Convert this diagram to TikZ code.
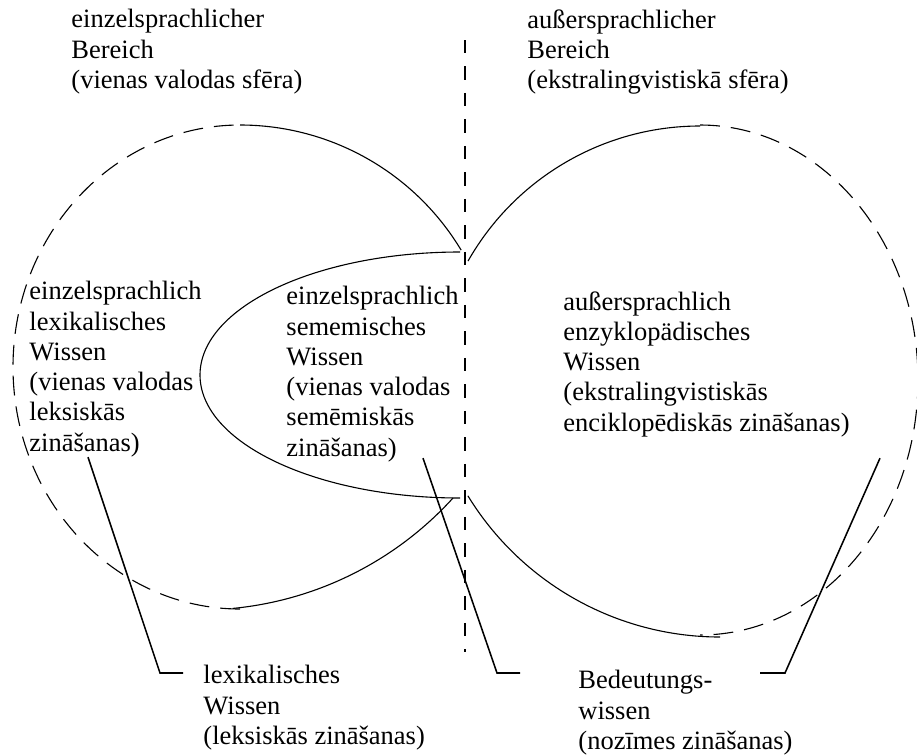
\documentclass[tikz,border=0pt]{standalone}
\usepackage{fontspec}
\setmainfont{Liberation Serif}
\usetikzlibrary{calc}

\begin{document}
\begin{tikzpicture}[
    x=0.453pt, y=-0.453pt,
    txt/.style      = {align=left, inner sep=0pt, anchor=north west,
                       font=\fontsize{12}{13.7}\selectfont},
    solidarc/.style = {line width=0.5pt},
    dasharc/.style  = {line width=0.5pt, dash pattern=on 9pt off 5pt},
    divider/.style  = {line width=0.7pt, dash pattern=on 6pt off 6pt},
    leader/.style   = {line width=0.7pt}
  ]
  \useasboundingbox (0,0) rectangle (917,754);

  % left area (einzelsprachlich)
  \draw[dasharc]  (240,367) ++(90:227 and 242)
        arc[start angle=90, end angle=270, x radius=227, y radius=242];
  \draw[solidarc] (240,383) ++(270:258) arc[start angle=270, end angle=329, radius=258];
  \draw[solidarc] (200,268.2) ++(42.25:341.8) arc[start angle=42.25, end angle=84.5, radius=341.8];
  % sememic part
  \draw[solidarc] (460,375) ++(90:260 and 123)
        arc[start angle=90, end angle=270, x radius=260, y radius=123];
  % right area (aussersprachlich)
  \draw[dasharc]  (700,380) ++(-90:218 and 255)
        arc[start angle=-90, end angle=90, x radius=218, y radius=255];
  \draw[solidarc] (700,392.8) ++(209.6:266.8) arc[start angle=209.6, end angle=270, radius=266.8];
  \draw[solidarc] (720,341.3) ++(90:295.7) arc[start angle=90, end angle=148.5, radius=295.7];

  \draw[divider] (465,40) -- (465,652);

  \node[txt] (topleft)    at (71,9)    {einzelsprachlicher\\Bereich\\(vienas valodas sfēra)};
  \node[txt] (topright)   at (527,9)   {außersprachlicher\\Bereich\\(ekstralingvistiskā sfēra)};
  \node[txt] (lexleft)    at (29,281)  {einzelsprachlich\\lexikalisches\\Wissen\\(vienas valodas\\leksiskās\\zināšanas)};
  \node[txt] (semmid)     at (286,286) {einzelsprachlich\\sememisches\\Wissen\\(vienas valodas\\semēmiskās\\zināšanas)};
  \node[txt] (encright)   at (563,291) {außersprachlich\\enzyklopädisches\\Wissen\\(ekstralingvistiskās\\enciklopēdiskās zināšanas)};
  \node[txt] (lexbottom)  at (203,665) {lexikalisches\\Wissen\\(leksiskās zināšanas)};
  \node[txt] (meanbottom) at (578,670) {Bedeutungs-\\wissen\\(nozīmes zināšanas)};

  % leader lines
  \coordinate (lexknee)  at (160,673);
  \coordinate (semknee)  at (497,673);
  \coordinate (encknee)  at (785,673);
  \draw[leader] ($(lexleft.south west)+(59,0)$) -- (lexknee) -- ($(lexbottom.north west)+(-20,8)$);
  \draw[leader] ($(semmid.south west)+(137,-4)$) -- (semknee) -- ($(meanbottom.north west)+(-58,3)$);
  \draw[leader] ($(encright.south west)+(317,21)$) -- (encknee) -- ($(meanbottom.north west)+(182,3)$);
\end{tikzpicture}
\end{document}
